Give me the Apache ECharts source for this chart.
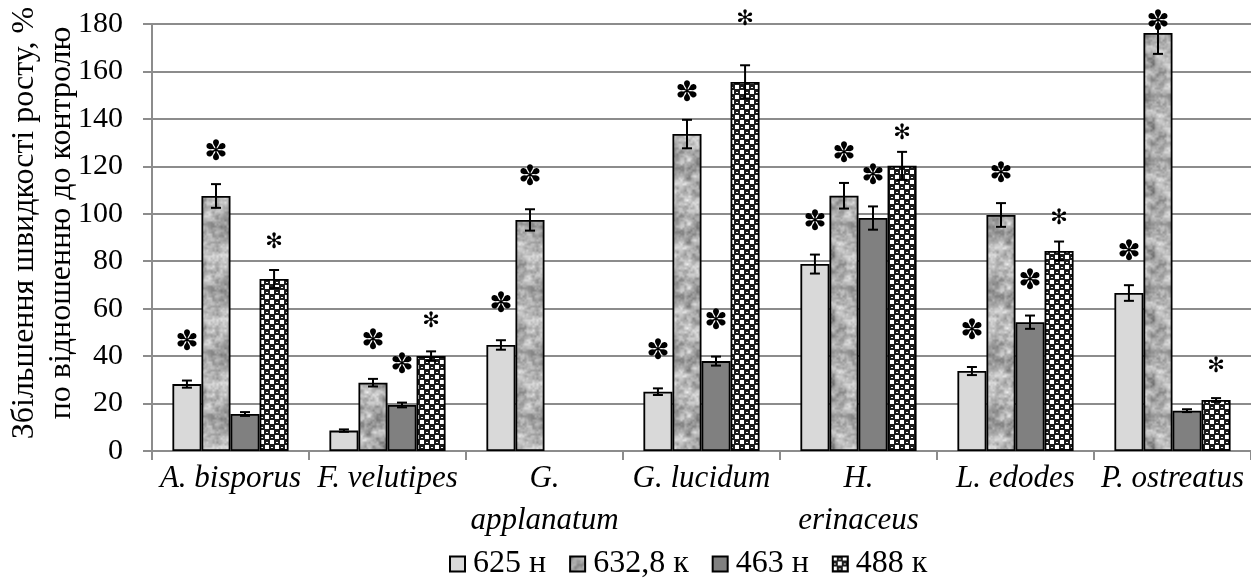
<!DOCTYPE html>
<html>
<head>
<meta charset="utf-8">
<script src="https://cdn.jsdelivr.net/npm/echarts@6/dist/echarts.min.js"></script>
<style>
html,body{margin:0;padding:0;background:#fff;}
#chart{width:1251px;height:582px;}
</style>
</head>
<body>
<div id="chart"></div>
<script>
// ---- data ----
const categories = ['A. bisporus', 'F. velutipes', 'G.\napplanatum', 'G. lucidum', 'H.\nerinaceus', 'L. edodes', 'P. ostreatus'];
const seriesNames = ['625 н', '632,8 к', '463 н', '488 к'];
const yTicks = [0, 20, 40, 60, 80, 100, 120, 140, 160, 180];

const v625  = [28.2, 8.6, 44.7, 25.0, 78.8, 33.7, 66.6];
const e625  = [1.5, 0.5, 2.0, 1.4, 4.0, 1.7, 3.3];
const s625  = [45.5, null, 61.5, 41.7, 96.1, 50.2, 83.5];

const v6328 = [107.5, 28.8, 97.4, 133.6, 107.6, 99.5, 176.2];
const e6328 = [5.0, 1.6, 4.5, 6.0, 5.4, 5.0, 8.8];
const s6328 = [125.6, 46.0, 115.0, 150.5, 124.8, 116.4, 180.4];

const v463  = [15.6, 19.4, null, 37.9, 98.2, 54.3, 17.0];
const e463  = [0.8, 1.0, null, 1.9, 4.9, 2.8, 0.6];
const s463  = [null, 35.8, null, 54.4, 115.5, 71.2, null];

const v488  = [72.5, 40.0, null, 155.6, 120.2, 84.3, 21.5];
const e488  = [3.8, 2.0, null, 7.0, 5.9, 4.0, 0.8];
const s488  = [87.7, 54.4, null, 181.7, 134.0, 98.2, 35.4];

const values = [v625, v6328, v463, v488];
const errors = [e625, e6328, e463, e488];
const sigs   = [s625, s6328, s463, s488];

const SERIF = "'Liberation Serif', 'Times New Roman', serif";

// ---- textures ----
function hash(x, y) {
  const s = Math.sin(x * 127.1 + y * 311.7) * 43758.5453;
  return s - Math.floor(s);
}
function valueNoise(px, py, cell, period) {
  const gx = px / cell, gy = py / cell;
  const x0 = Math.floor(gx), y0 = Math.floor(gy);
  const fx = gx - x0, fy = gy - y0;
  const sx = fx * fx * (3 - 2 * fx), sy = fy * fy * (3 - 2 * fy);
  const w = (a) => ((a % period) + period) % period;
  const a = hash(w(x0), w(y0)), b = hash(w(x0 + 1), w(y0));
  const c = hash(w(x0), w(y0 + 1)), d = hash(w(x0 + 1), w(y0 + 1));
  return (a * (1 - sx) + b * sx) * (1 - sy) + (c * (1 - sx) + d * sx) * sy;
}
function makeGranite() {
  const N = 64;
  const c = document.createElement('canvas');
  c.width = c.height = N;
  const ctx = c.getContext('2d');
  const img = ctx.createImageData(N, N);
  for (let y = 0; y < N; y++) {
    for (let x = 0; x < N; x++) {
      const n = 0.45 * valueNoise(x, y, 8, 8) + 0.35 * valueNoise(x + 3, y + 5, 4, 16) + 0.2 * valueNoise(x + 1, y + 2, 2, 32);
      const g = Math.round(100 + n * 145);
      const i = (y * N + x) * 4;
      img.data[i] = g; img.data[i + 1] = g; img.data[i + 2] = g; img.data[i + 3] = 255;
    }
  }
  ctx.putImageData(img, 0, 0);
  return c;
}
function makeChecker() {
  const c = document.createElement('canvas');
  c.width = c.height = 10;
  const ctx = c.getContext('2d');
  ctx.fillStyle = '#1e1e1e';
  ctx.fillRect(0, 0, 10, 10);
  ctx.fillStyle = '#ffffff';
  ctx.fillRect(0, 0, 4, 4);
  ctx.fillRect(5, 5, 4, 4);
  ctx.fillRect(6, 2, 2, 1);
  ctx.fillRect(1, 7, 2, 1);
  return c;
}

const fills = [
  '#d9d9d9',
  { image: makeGranite(), repeat: 'repeat' },
  '#808080',
  { image: makeChecker(), repeat: 'repeat' }
];

const GAP = 0.26;
const NS = 4;
const YMAX = 180;

// error-bar / significance data built from the arrays
const extraData = [];
for (let s = 0; s < NS; s++) {
  for (let i = 0; i < categories.length; i++) {
    extraData.push([i, s, values[s][i], errors[s][i], sigs[s][i]]);
  }
}

const barSeries = seriesNames.map((name, s) => ({
  name: name,
  type: 'bar',
  data: values[s].map(v => (v === null ? '-' : v)),
  barGap: '0%',
  barCategoryGap: (GAP * 100) + '%',
  itemStyle: { color: fills[s], borderColor: '#000', borderWidth: 1.8 },
  emphasis: { disabled: true },
  animation: false,
  z: 2
}));

const overlay = {
  type: 'custom',
  name: 'marks',
  data: extraData,
  clip: false,
  z: 5,
  silent: true,
  animation: false,
  encode: { x: 0, y: 2 },
  renderItem: function (params, api) {
    const cat = api.value(0), s = api.value(1), v = api.value(2), e = api.value(3), sg = api.value(4);
    const band = api.size([1, 0])[0];
    const bw = band * (1 - GAP) / NS;
    const cx = api.coord([cat, 0])[0] - band * (1 - GAP) / 2 + bw * (s + 0.5);
    const children = [];
    if (v !== null && !isNaN(v) && e !== null && !isNaN(e)) {
      const topVal = Math.min(v + e, YMAX);
      const yTop = api.coord([cat, topVal])[1];
      const yBot = api.coord([cat, v - e])[1];
      const st = { stroke: '#000', lineWidth: 2 };
      children.push({ type: 'line', shape: { x1: cx, y1: yTop, x2: cx, y2: yBot }, style: st });
      if (v + e <= YMAX) children.push({ type: 'line', shape: { x1: cx - 5, y1: yTop, x2: cx + 5, y2: yTop }, style: st });
      children.push({ type: 'line', shape: { x1: cx - 5, y1: yBot, x2: cx + 5, y2: yBot }, style: st });
    }
    if (sg !== null && !isNaN(sg)) {
      const ys = api.coord([cat, sg])[1];
      const bold = s < 3;
      children.push({
        type: 'text',
        x: cx, y: ys,
        style: {
          text: bold ? '\u273D' : '\u273B',
          fontFamily: 'DejaVu Sans',
          fontSize: bold ? 28 : 21,
          fill: '#000',
          align: 'center',
          verticalAlign: 'middle'
        }
      });
    }
    return { type: 'group', children: children };
  }
};

const chart = echarts.init(document.getElementById('chart'), null, { renderer: 'canvas' });
chart.setOption({
  animation: false,
  backgroundColor: '#ffffff',
  grid: { left: 152, right: 0, top: 24, bottom: 131, containLabel: false },
  legend: {
    data: seriesNames,
    left: 449,
    top: 548,
    padding: 0,
    itemGap: 23,
    itemWidth: 15,
    itemHeight: 15,
    icon: 'rect',
    selectedMode: false,
    textStyle: { fontFamily: SERIF, fontSize: 32, color: '#000', padding: [0, 0, 0, 3] }
  },
  xAxis: {
    type: 'category',
    data: categories,
    axisLine: { lineStyle: { color: '#8c8c8c', width: 2 } },
    axisTick: { show: true, length: 9, lineStyle: { color: '#8c8c8c', width: 2 } },
    axisLabel: {
      interval: 0,
      margin: 7,
      fontFamily: SERIF,
      fontStyle: 'italic',
      fontSize: 31,
      lineHeight: 42,
      color: '#000'
    }
  },
  yAxis: {
    type: 'value',
    min: 0,
    max: YMAX,
    interval: yTicks[1] - yTicks[0],
    axisLine: { show: true, lineStyle: { color: '#8c8c8c', width: 2 } },
    axisTick: { show: true, length: 9, lineStyle: { color: '#8c8c8c', width: 2 } },
    splitLine: { lineStyle: { color: '#8c8c8c', width: 2 } },
    axisLabel: {
      margin: 29,
      fontFamily: SERIF,
      fontSize: 30,
      color: '#000',
      formatter: function (val) { return yTicks.indexOf(val) >= 0 ? String(val) : ''; }
    }
  },
  graphic: [{
    type: 'text',
    x: 43,
    y: 223,
    rotation: Math.PI / 2,
    style: {
      text: 'Збільшення швидкості росту, %\nпо відношенню до контролю',
      fontFamily: SERIF,
      fontSize: 32,
      lineHeight: 37,
      fill: '#000',
      align: 'center',
      verticalAlign: 'middle'
    }
  }],
  series: barSeries.concat([overlay])
});
</script>
</body>
</html>
